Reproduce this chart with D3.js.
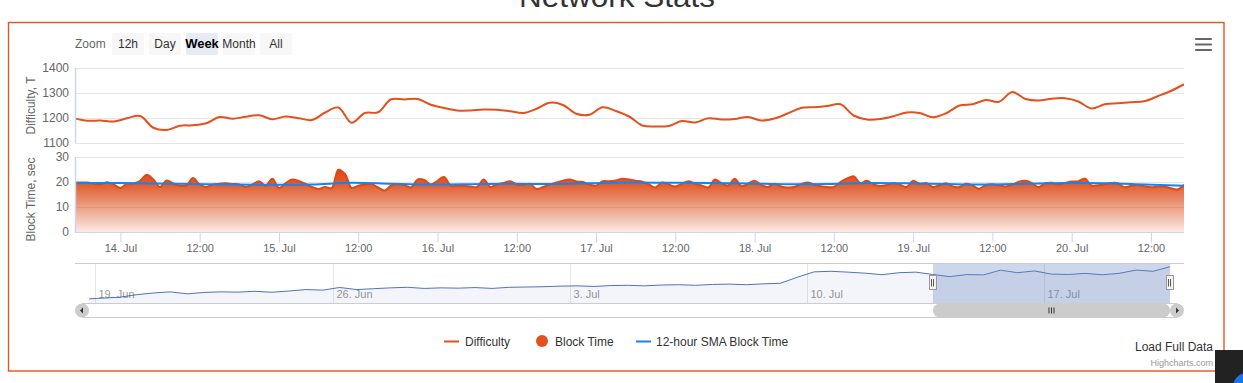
<!DOCTYPE html>
<html><head><meta charset="utf-8">
<script src="https://cdn.jsdelivr.net/npm/d3@7"></script>
<style>
body{margin:0;background:#fff;overflow:hidden;}
svg{display:block;font-family:"Liberation Sans",Arial,sans-serif;}
</style>
</head><body>
<svg id="c" width="1243" height="383"></svg>
<script>
// ---------------- DATA ----------------
const difficultyStart = "2017-07-13T17:00";
const difficultyStepHours = 2;
const difficulty = [1199,1189,1190,1186,1199,1208,1161,1152,1169,1171,
 1179,1204,1197,1205,1211,1195,1206,1199,1192,1222,
 1242,1181,1220,1223,1275,1274,1276,1253,1240,1230,
 1230,1234,1233,1227,1220,1237,1261,1252,1217,1213,
 1243,1228,1206,1170,1166,1168,1188,1182,1199,1194,
 1196,1204,1190,1198,1218,1240,1243,1248,1255,1210,
 1194,1196,1207,1222,1220,1203,1219,1250,1255,1272,
 1265,1304,1276,1270,1277,1279,1266,1238,1255,1259,
 1263,1267,1287,1308,1335];

const blockTimeStart = "2017-07-13T17:00";
const blockTimeStepHours = 1;
const blockTime = [19.8,19.8,19.8,19.4,19.0,19.9,19.0,17.6,19.3,19.4,
 20.5,22.9,21.0,18.0,20.6,19.4,18.5,18.6,21.6,19.0,
 18.0,19.0,19.3,19.5,19.2,19.0,18.0,19.0,20.3,18.5,
 21.3,17.6,19.5,21.0,20.4,19.3,18.0,17.2,18.0,17.6,
 24.9,23.2,17.6,18.5,19.0,19.2,17.8,16.6,18.6,19.1,
 18.8,17.8,21.0,20.8,19.0,20.5,22.0,18.5,18.5,18.5,
 18.2,18.0,21.0,18.0,19.0,19.6,20.3,19.0,18.8,19.3,
 17.2,18.0,19.0,19.8,20.5,21.0,20.2,20.0,19.0,18.5,
 20.3,20.3,20.6,21.3,21.0,20.5,20.1,19.0,17.8,19.8,
 19.0,18.2,19.3,20.3,19.3,18.6,17.8,21.0,19.5,18.6,
 21.3,18.3,19.3,20.5,18.8,18.0,19.3,18.2,17.8,18.0,
 19.1,19.8,19.0,18.3,18.0,18.0,20.0,21.4,22.3,19.5,
 20.5,19.0,18.4,18.8,19.6,18.9,18.0,20.5,19.3,19.6,
 18.0,18.7,19.5,18.2,18.0,19.3,18.6,17.3,18.8,19.1,
 18.7,18.2,18.9,20.1,20.5,19.5,18.0,19.5,19.7,19.0,
 19.6,20.2,20.3,21.4,18.6,18.7,19.1,19.6,19.5,17.9,
 18.5,18.8,18.3,17.9,18.1,18.2,17.5,17.0,18.9];

const smaStart = "2017-07-13T17:00";
const smaStepHours = 6;
const smaBlockTime = [19.5,19.6,19.4,19.2,19.0,18.9,19.0,19.7,19.3,19.0,
 19.1,19.3,19.2,19.5,19.8,19.7,19.6,19.4,19.1,19.2,
 19.6,19.5,19.2,19.0,19.3,19.6,19.5,19.0,18.5];

const navigatorStart = "2017-06-18T17:00";
const navigatorStepHours = 12;
const navigatorDifficulty = [770,785,800,845,875,895,860,885,895,890,
 905,888,910,935,925,972,935,950,965,975,
 955,965,960,970,955,975,980,985,995,1000,
 990,1005,1010,1000,1015,1020,1010,1025,1030,1020,
 1035,1045,1150,1245,1255,1240,1222,1195,1230,1240,
 1199,1161,1197,1192,1275,1230,1261,1206,1199,1218,1194,1219,1276,1255,1335];

const viewRange = ["2017-07-13T17:08", "2017-07-20T17:00"];
const navigatorRange = ["2017-06-18T19:30", "2017-07-20T17:00"];
const navigatorTicks = ["2017-06-19T00:00","2017-06-26T00:00","2017-07-03T00:00","2017-07-10T00:00","2017-07-17T00:00"];
const difficultyTicks = [1100,1200,1300,1400];
const blockTimeTicks = [0,10,20,30];
const rangeButtons = ["12h","Day","Week","Month","All"];
const selectedButton = "Week";
const legendItems = ["Difficulty","Block Time","12-hour SMA Block Time"];
const titleText = "Network Stats";

// ---------------- SETUP ----------------
const parse = d3.timeParse("%Y-%m-%dT%H:%M");
const toSeries = (start, step, vals) => vals.map((v,i)=>({t:d3.timeHour.offset(parse(start), i*step), v}));
const diffData = toSeries(difficultyStart, difficultyStepHours, difficulty);
const btData = toSeries(blockTimeStart, blockTimeStepHours, blockTime);
const smaData = toSeries(smaStart, smaStepHours, smaBlockTime);
const navData = toSeries(navigatorStart, navigatorStepHours, navigatorDifficulty);

const C = {orange:"#e4511d", areaStroke:"#dd4a17", blue:"#1584f0", grid:"#e6e6e6", axis:"#ccd6eb", text:"#666", nav:"#335cad"};
const plotL = 75, plotR = 1184;
const diffTop = 68, diffBot = 143, btTop = 157, btBot = 232;
const navL = 89, navR = 1170, navTop = 263, navBot = 303, sbBot = 317;

const svg = d3.select("#c");
const defs = svg.append("defs");

const x = d3.scaleTime().domain(viewRange.map(parse)).range([plotL, plotR]);
const yDiff = d3.scaleLinear().domain([1100,1400]).range([diffBot, diffTop]);
const yBt = d3.scaleLinear().domain([0,30]).range([btBot, btTop]);
const xNav = d3.scaleTime().domain(navigatorRange.map(parse)).range([navL, navR]);
const yNav = d3.scaleLinear().domain([700,1400]).range([navBot, navTop]);

// title (mostly cut off at the top)
svg.append("text").attr("x", 617).attr("y", 7).attr("text-anchor","middle")
  .attr("font-size", 30).attr("fill","#333").attr("textLength",196).attr("lengthAdjust","spacingAndGlyphs")
  .text(titleText);

// border
svg.append("rect").attr("x",8.5).attr("y",22.5).attr("width",1215.5).attr("height",348.5)
  .attr("fill","none").attr("stroke","#e8531f").attr("stroke-width",1.4);

// range selector
svg.append("text").attr("x",75).attr("y",48).attr("font-size",12).attr("fill",C.text).text("Zoom");
const rs = svg.append("g");
rangeButtons.forEach((b,i)=>{
  const bx = 112 + i*37;
  const sel = b===selectedButton;
  rs.append("rect").attr("x",bx).attr("y",33).attr("width",32).attr("height",22).attr("rx",2)
    .attr("fill", sel ? "#e6ebf5" : "#f7f7f7");
  rs.append("text").attr("x",bx+16).attr("y",48).attr("text-anchor","middle")
    .attr("font-size", sel?13:12).attr("font-weight", sel?"bold":"normal")
    .attr("fill", sel?"#000":"#333").text(b);
});

// hamburger
[39,44.5,50].forEach(yy=>svg.append("line").attr("x1",1196).attr("x2",1211).attr("y1",yy).attr("y2",yy)
  .attr("stroke","#666").attr("stroke-width",2.2).attr("stroke-linecap","round"));

// gridlines
const g = svg.append("g");
difficultyTicks.forEach(t=>{
  g.append("line").attr("x1",plotL).attr("x2",plotR).attr("y1",Math.round(yDiff(t))+0.5).attr("y2",Math.round(yDiff(t))+0.5)
   .attr("stroke",C.grid);
  g.append("text").attr("x",69).attr("y",yDiff(t)).attr("dy","0.35em").attr("text-anchor","end")
   .attr("font-size",12).attr("fill",C.text).text(t);
});
blockTimeTicks.forEach(t=>{
  if(t>0) g.append("line").attr("x1",plotL).attr("x2",plotR).attr("y1",Math.round(yBt(t))+0.5).attr("y2",Math.round(yBt(t))+0.5)
   .attr("stroke",C.grid);
  g.append("text").attr("x",69).attr("y",yBt(t)).attr("dy","0.35em").attr("text-anchor","end")
   .attr("font-size",12).attr("fill",C.text).text(t);
});
// y axis titles
svg.append("text").attr("transform",`translate(35,${(diffTop+diffBot)/2}) rotate(-90)`).attr("text-anchor","middle")
  .attr("font-size",12).attr("fill",C.text).text("Difficulty, T");
svg.append("text").attr("transform",`translate(35,${(btTop+btBot)/2+5}) rotate(-90)`).attr("text-anchor","middle")
  .attr("font-size",12).attr("fill",C.text).text("Block Time, sec");

// clips
defs.append("clipPath").attr("id","clipDiff").append("rect").attr("x",plotL).attr("y",diffTop-3).attr("width",plotR-plotL).attr("height",diffBot-diffTop+3);
defs.append("clipPath").attr("id","clipBt").append("rect").attr("x",plotL).attr("y",btTop-3).attr("width",plotR-plotL).attr("height",btBot-btTop+3);
defs.append("clipPath").attr("id","clipNav").append("rect").attr("x",navL).attr("y",navTop).attr("width",navR-navL).attr("height",navBot-navTop);

// gradient
const grad = defs.append("linearGradient").attr("id","btGrad").attr("x1",0).attr("y1",0).attr("x2",0).attr("y2",1);
grad.append("stop").attr("offset","0%").attr("stop-color","#dc4a17").attr("stop-opacity",1);
grad.append("stop").attr("offset","25%").attr("stop-color","#dc4a17").attr("stop-opacity",0.88);
grad.append("stop").attr("offset","100%").attr("stop-color","#dc4a17").attr("stop-opacity",0.12);

// block time area
const curve = d3.curveCatmullRom.alpha(0.5);
const btG = svg.append("g").attr("clip-path","url(#clipBt)");
btG.append("path").datum(btData).attr("fill","url(#btGrad)")
  .attr("d", d3.area().x(d=>x(d.t)).y0(yBt(0)).y1(d=>yBt(d.v)).curve(curve));
btG.append("path").datum(btData).attr("fill","none").attr("stroke",C.areaStroke).attr("stroke-width",2)
  .attr("d", d3.line().x(d=>x(d.t)).y(d=>yBt(d.v)).curve(curve));
btG.append("path").datum(smaData).attr("fill","none").attr("stroke",C.blue).attr("stroke-width",2)
  .attr("d", d3.line().x(d=>x(d.t)).y(d=>yBt(d.v)).curve(curve));

// difficulty line
svg.append("g").attr("clip-path","url(#clipDiff)").append("path").datum(diffData)
  .attr("fill","none").attr("stroke",C.orange).attr("stroke-width",2)
  .attr("d", d3.line().x(d=>x(d.t)).y(d=>yDiff(d.v)).curve(curve));

// axis lines
svg.append("line").attr("x1",plotL+0.5).attr("x2",plotL+0.5).attr("y1",diffTop).attr("y2",diffBot).attr("stroke",C.axis).attr("stroke-width",1.5);
svg.append("line").attr("x1",plotL+0.5).attr("x2",plotL+0.5).attr("y1",btTop).attr("y2",btBot).attr("stroke",C.axis).attr("stroke-width",1.5);

// x axis
const xTicks = d3.timeHour.every(12).range(x.domain()[0], x.domain()[1]);
const xAxis = d3.axisBottom(x).tickValues(xTicks).tickSize(10).tickPadding(2)
  .tickFormat(d => d.getHours()===0 ? d3.timeFormat("%-d. %b")(d) : d3.timeFormat("%H:%M")(d));
const xa = svg.append("g").attr("transform",`translate(0,${btBot+0.5})`).call(xAxis);
xa.select(".domain").attr("stroke",C.axis).attr("d",`M${plotL},0H${plotR}`);
xa.selectAll(".tick line").attr("stroke",C.axis);
xa.selectAll(".tick text").attr("fill",C.text).attr("font-size",11).attr("font-family","Liberation Sans, Arial, sans-serif");

// ---------------- NAVIGATOR ----------------
const nav = svg.append("g");
navigatorTicks.map(parse).forEach(t=>{
  const xx = Math.round(xNav(t))+0.5;
  nav.append("line").attr("x1",xx).attr("x2",xx).attr("y1",navTop).attr("y2",navBot).attr("stroke",C.grid);
  nav.append("text").attr("x",xx+3).attr("y",298).attr("font-size",11).attr("fill","#999")
    .text(d3.timeFormat("%-d. %b")(t));
});
const navClip = nav.append("g").attr("clip-path","url(#clipNav)");
navClip.append("path").datum(navData).attr("fill",C.nav).attr("fill-opacity",0.06)
  .attr("d", d3.area().x(d=>xNav(d.t)).y0(navBot).y1(d=>yNav(d.v)));
navClip.append("path").datum(navData).attr("fill","none").attr("stroke",C.nav).attr("stroke-width",1).attr("stroke-opacity",0.85)
  .attr("d", d3.line().x(d=>xNav(d.t)).y(d=>yNav(d.v)));
const selL = xNav(x.domain()[0]), selR = xNav(x.domain()[1]);
nav.append("rect").attr("x",selL).attr("y",navTop).attr("width",selR-selL).attr("height",navBot-navTop)
  .attr("fill","rgba(102,133,194,0.33)");
// outline
nav.append("line").attr("x1",plotL).attr("x2",plotR).attr("y1",navTop+0.5).attr("y2",navTop+0.5).attr("stroke","#ccc");
// scrollbar
nav.append("line").attr("x1",82).attr("x2",1177).attr("y1",navBot+0.5).attr("y2",navBot+0.5).attr("stroke","#ccc");
nav.append("line").attr("x1",82).attr("x2",1177).attr("y1",sbBot+0.5).attr("y2",sbBot+0.5).attr("stroke","#ccc");
nav.append("rect").attr("x",selL).attr("y",navBot+0.5).attr("width",selR-selL).attr("height",sbBot-navBot)
  .attr("rx",7).attr("fill","#ccc");
const gripX = (selL+selR)/2;
[-2.5,0,2.5].forEach(o=>nav.append("line").attr("x1",gripX+o).attr("x2",gripX+o).attr("y1",307.5).attr("y2",313.5)
  .attr("stroke","#333").attr("stroke-width",1));
[[82,-1],[1177,1]].forEach(([cx,dir])=>{
  nav.append("circle").attr("cx",cx).attr("cy",310.5).attr("r",7).attr("fill","#ccc");
  nav.append("path").attr("d",`M${cx+dir*2},310.5L${cx-dir*1},307.5L${cx-dir*1},313.5Z`).attr("fill","#333");
});
// handles
[selL, selR].forEach(hx=>{
  nav.append("rect").attr("x",Math.round(hx)-3.5).attr("y",275.5).attr("width",7).attr("height",14)
    .attr("fill","#f2f2f2").attr("stroke","#999");
  [-1,1].forEach(o=>nav.append("line").attr("x1",Math.round(hx)+o-0.5).attr("x2",Math.round(hx)+o-0.5)
    .attr("y1",279).attr("y2",286.5).attr("stroke","#333").attr("stroke-width",0.8));
});

// ---------------- LEGEND ----------------
const lg = svg.append("g").attr("font-size",12).attr("fill","#333");
lg.append("line").attr("x1",444).attr("x2",459).attr("y1",341.5).attr("y2",341.5).attr("stroke",C.orange).attr("stroke-width",2);
lg.append("text").attr("x",465).attr("y",345.5).text(legendItems[0]);
lg.append("circle").attr("cx",542).attr("cy",341).attr("r",6).attr("fill",C.orange);
lg.append("text").attr("x",555).attr("y",345.5).text(legendItems[1]);
lg.append("line").attr("x1",636).attr("x2",651).attr("y1",341.5).attr("y2",341.5).attr("stroke",C.blue).attr("stroke-width",2);
lg.append("text").attr("x",656).attr("y",345.5).text(legendItems[2]);

svg.append("text").attr("x",1213).attr("y",351).attr("text-anchor","end").attr("font-size",12).attr("fill","#333").text("Load Full Data");
svg.append("text").attr("x",1213).attr("y",366).attr("text-anchor","end").attr("font-size",9).attr("fill","#999").text("Highcharts.com");

// dark corner widget
defs.append("clipPath").attr("id","clipCorner").append("rect").attr("x",1215).attr("y",350).attr("width",28).attr("height",33);
const corner = svg.append("g").attr("clip-path","url(#clipCorner)");
corner.append("rect").attr("x",1215).attr("y",350).attr("width",28).attr("height",33).attr("fill","#222");
corner.append("circle").attr("cx",1247).attr("cy",387).attr("r",14).attr("fill","#1a73e8");
</script>
</body></html>
